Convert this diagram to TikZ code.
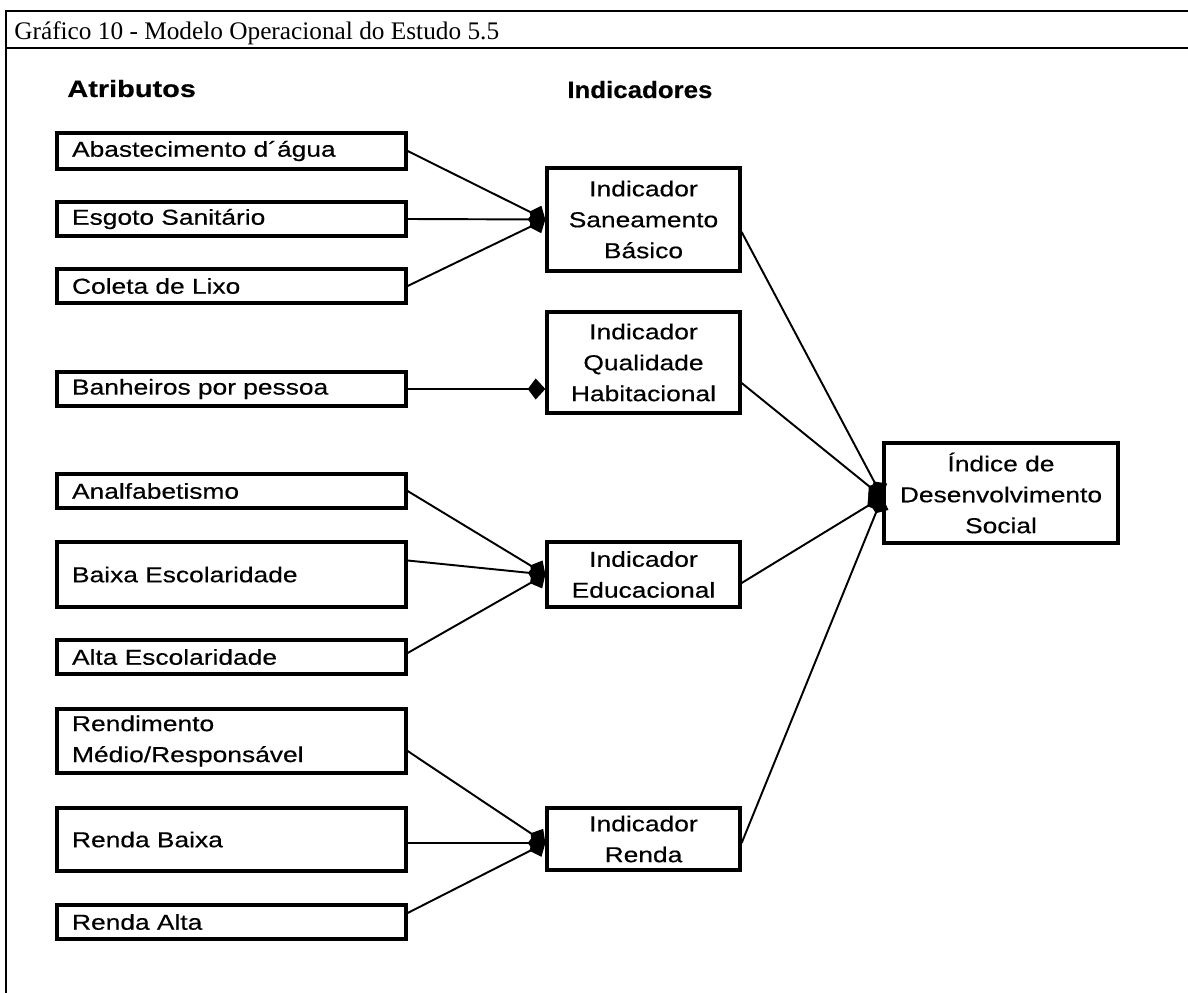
\documentclass[tikz,border=0pt]{standalone}
\usepackage{fontspec}
\setmainfont{Liberation Serif}
\newfontfamily\dfont{Liberation Sans}[FakeStretch=1.22,FakeBold=0.4]
\newfontfamily\hfont{Liberation Sans}[FakeStretch=1.09,FakeBold=0.4]
\usetikzlibrary{arrows.meta,calc}

\begin{document}
\begin{tikzpicture}[x=0.02cm,y=-0.02cm,
  frame/.style={line width=1.5pt},
  box/.style={draw, line width=1.9pt, rectangle, inner sep=0pt,
    font=\dfont\fontsize{12.3}{17.6}\selectfont},
  attr/.style={box, minimum width=6.98cm, text width=6.38cm, align=left, inner xsep=0.3cm},
  ind/.style={box, minimum width=3.86cm, align=center},
  link/.style={line width=1.1pt, -{Kite[length=10pt,width=12pt,inset=4.5pt]}},
  head/.style={font=\dfont\bfseries\fontsize{13.5}{16}\selectfont, anchor=base west, inner sep=0pt}
]
\useasboundingbox (0,0) rectangle (1188,993);

% frame and caption row
\draw[frame] (6,993) -- (6,11) -- (1188,11);
\draw[frame] (6,48) -- (1188,48);
\node[anchor=base west, inner sep=0pt, font=\fontsize{14.4}{17}\selectfont] (title) at (14,40)
  {Gráfico 10 - Modelo Operacional do Estudo 5.5};

% column headings
\node[head] (hattr) at (67,97) {Atributos};
\node[head, font=\hfont\bfseries\fontsize{13.5}{16}\selectfont] (hind) at (567,98) {Indicadores};

% attributes
\node[attr, minimum height=0.72cm] (abast)  at (231.5,151)   {Abastecimento d´água};
\node[attr, minimum height=0.68cm] (esgoto) at (231.5,219)   {Esgoto Sanitário};
\node[attr, minimum height=0.68cm] (coleta) at (231.5,286)   {Coleta de Lixo};
\node[attr, minimum height=0.68cm] (banh)   at (231.5,389)   {Banheiros por pessoa};
\node[attr, minimum height=0.68cm] (analf)  at (231.5,491)   {Analfabetismo};
\node[attr, minimum height=1.30cm] (baixa)  at (231.5,574.5) {Baixa Escolaridade};
\node[attr, minimum height=0.68cm] (alta)   at (231.5,657)   {Alta Escolaridade};
\node[attr, minimum height=1.28cm] (rend)   at (231.5,741)   {Rendimento\\Médio/Responsável};
\node[attr, minimum height=1.26cm] (rbaixa) at (231.5,839.5) {Renda Baixa};
\node[attr, minimum height=0.68cm] (ralta)  at (231.5,922)   {Renda Alta};

% indicators
\node[ind, minimum height=2.06cm] (san)   at (643.5,219.5) {Indicador\\Saneamento\\Básico};
\node[ind, minimum height=2.02cm] (qual)  at (643.5,362.5) {Indicador\\Qualidade\\Habitacional};
\node[ind, minimum height=1.30cm] (educ)  at (643.5,574.5) {Indicador\\Educacional};
\node[ind, minimum height=1.24cm] (renda) at (643.5,839)   {Indicador\\Renda};

% index
\node[box, minimum width=4.68cm, minimum height=2.0cm, align=center] (idx) at (1001,493)
  {Índice de\\Desenvolvimento\\Social};

% attributes -> indicators
\draw[link] (abast.east)  -- (san.west);
\draw[link] (esgoto.east) -- (san.west);
\draw[link] (coleta.east) -- (san.west);
\draw[link] (banh.east)   -- (banh.east -| qual.west);
\draw[link] (analf.east)  -- (educ.west);
\draw[link] ([yshift=0.28cm]baixa.east) -- (educ.west);
\draw[link] ([yshift=0.08cm]alta.east)  -- (educ.west);
\draw[link] ([yshift=-0.2cm]rend.east)   -- ([yshift=-0.08cm]renda.west);
\draw[link] ([yshift=-0.07cm]rbaixa.east) -- ([yshift=-0.08cm]renda.west);
\draw[link] ([yshift=0.18cm]ralta.east)  -- ([yshift=-0.08cm]renda.west);

% indicators -> index
\draw[link] ([yshift=-0.25cm]san.east)   -- ([yshift=-0.08cm]idx.west);
\draw[link] ([yshift=-0.41cm]qual.east)  -- ([yshift=-0.08cm]idx.west);
\draw[link] ([yshift=-0.17cm]educ.east)  -- ([yshift=-0.08cm]idx.west);
\draw[link] ([yshift=-0.08cm]renda.east) -- ([yshift=-0.08cm]idx.west);
\end{tikzpicture}
\end{document}
